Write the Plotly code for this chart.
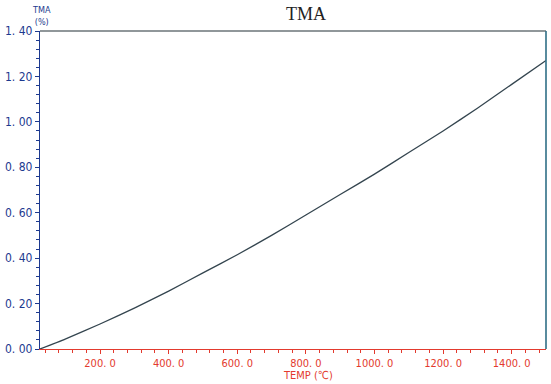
import plotly.graph_objects as go

# Data
temp_c = [25, 100, 200, 300, 400, 500, 600, 700, 800, 900, 1000, 1100, 1200, 1300, 1400, 1500]
tma_pct = [0.000, 0.045, 0.110, 0.180, 0.255, 0.335, 0.415, 0.500, 0.590, 0.680, 0.770, 0.865, 0.960, 1.060, 1.165, 1.270]

x_tickvals = [200, 400, 600, 800, 1000, 1200, 1400]
x_ticktext = ["200. 0", "400. 0", "600. 0", "800. 0", "1000. 0", "1200. 0", "1400. 0"]
y_tickvals = [0.0, 0.2, 0.4, 0.6, 0.8, 1.0, 1.2, 1.4]
y_ticktext = ["0. 00", "0. 20", "0. 40", "0. 60", "0. 80", "1. 00", "1. 20", "1. 40"]

BLUE = "#1d3a8f"
RED = "#e33a2e"
LINE = "#34454f"
FONT = "DejaVu Sans Condensed, Liberation Sans Narrow, Liberation Sans, sans-serif"

fig = go.Figure()
fig.add_trace(go.Scatter(x=temp_c, y=tma_pct, mode="lines",
                         line=dict(color=LINE, width=1.3, shape="spline", smoothing=0.6),
                         showlegend=False, hoverinfo="skip"))

fig.update_layout(
    width=551, height=384,
    margin=dict(l=40, r=5, t=31, b=35, autoexpand=False),
    paper_bgcolor="white", plot_bgcolor="white",
    title=dict(text="TMA", x=306 / 551, xref="container", xanchor="center",
               y=1 - 14 / 384, yref="container", yanchor="middle", automargin=False,
               font=dict(family="Liberation Serif, DejaVu Serif, serif", size=18, color="#222222")),
)

fig.update_xaxes(
    range=[25, 1500], showgrid=False, zeroline=False, automargin=False,
    showline=True, linecolor=RED, linewidth=1.3,
    tickmode="array", tickvals=x_tickvals, ticktext=x_ticktext,
    ticks="outside", ticklen=4, tickcolor=RED, tickwidth=1,
    tickfont=dict(family=FONT, size=11, color=RED),
    minor=dict(dtick=40, tick0=0, ticks="outside", ticklen=3, tickcolor=RED, showgrid=False),
)
fig.update_yaxes(
    range=[0, 1.4], showgrid=False, zeroline=False, automargin=False,
    showline=True, linecolor=BLUE, linewidth=1.3,
    tickmode="array", tickvals=y_tickvals, ticktext=y_ticktext,
    ticks="outside", ticklen=4, tickcolor=BLUE, tickwidth=1,
    tickfont=dict(family=FONT, size=12, color=BLUE),
    minor=dict(dtick=0.04, tick0=0, ticks="outside", ticklen=3, tickcolor=BLUE, showgrid=False),
)

# frame: top gray, right teal
fig.add_shape(type="line", xref="paper", yref="paper", x0=0, x1=1, y0=1, y1=1,
              line=dict(color="#6b7478", width=1.3))
fig.add_shape(type="line", xref="paper", yref="paper", x0=1, x1=1, y0=0, y1=1,
              line=dict(color="#2f6f86", width=1.6))

fig.add_annotation(text="TMA<br>(%)", xref="paper", yref="paper", x=0.003, y=1.0,
                   xanchor="center", yanchor="bottom", yshift=2, showarrow=False,
                   font=dict(family=FONT, size=9, color=BLUE), align="center")
fig.add_annotation(text="TEMP (℃)", xref="paper", yref="paper", x=0.53, y=0,
                   xanchor="center", yanchor="top", yshift=-18, showarrow=False,
                   font=dict(family=FONT, size=11, color=RED))

fig.write_html("out.html", config={"displayModeBar": False},
               post_script="document.body.style.margin='0';document.body.style.overflow='hidden';")
